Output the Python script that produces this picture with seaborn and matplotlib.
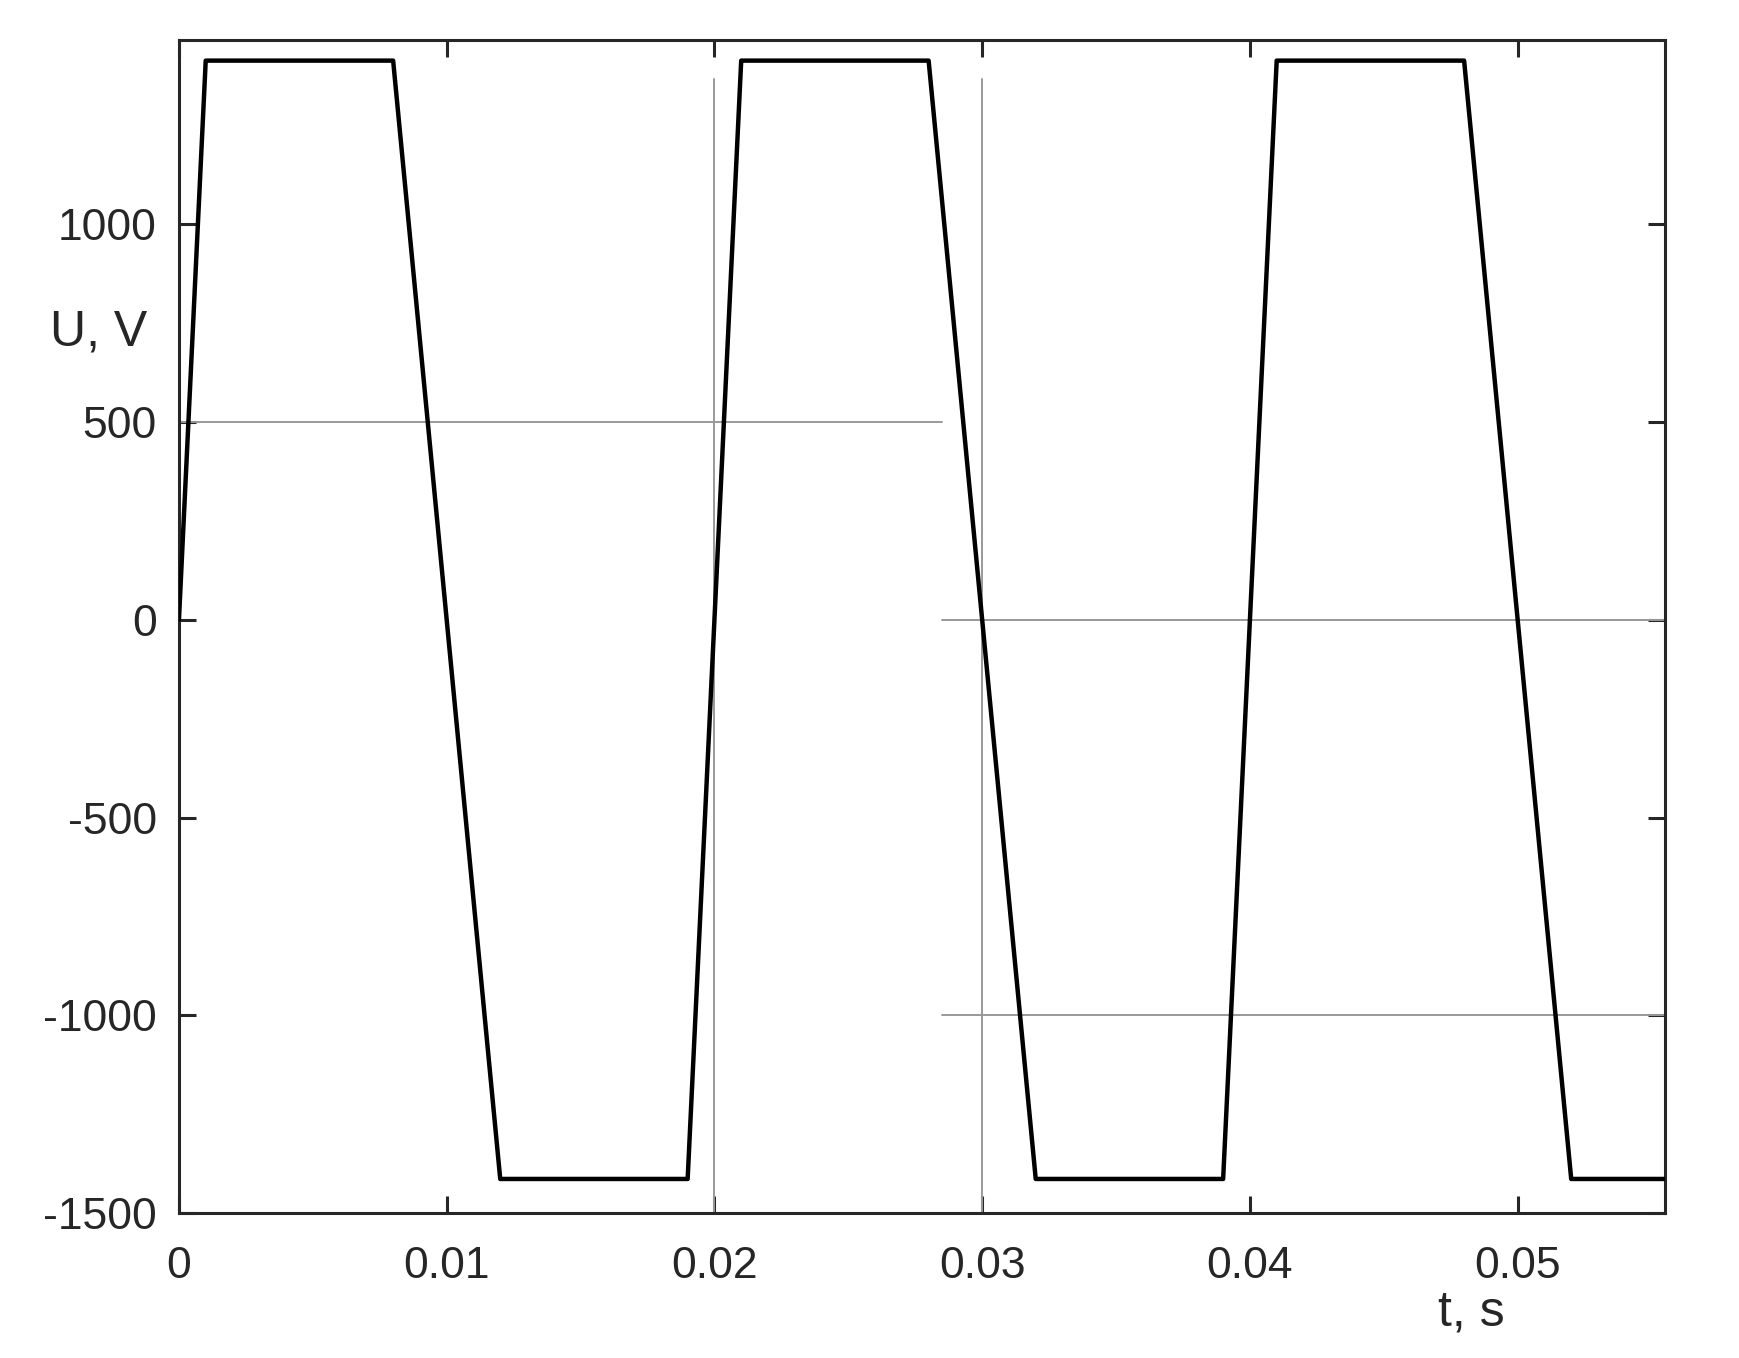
import numpy as np
import pandas as pd
import matplotlib.pyplot as plt
import seaborn as sns

# Waveform corner points (trapezoidal voltage)
t_points = [0, 0.001, 0.008, 0.012, 0.019, 0.021, 0.028, 0.032, 0.039, 0.041, 0.048, 0.052, 0.0555]
u_points = [0, 1414, 1414, -1414, -1414, 1414, 1414, -1414, -1414, 1414, 1414, -1414, -1414]

# Thin grey reference lines
hline_y = [500, 0, -1000]
hline_x0 = [0, 0.0285, 0.0285]
hline_x1 = [0.0285, 0.0555, 0.0555]
vline_x = [0.02, 0.03]
vline_top = 1367

x_ticks = [0, 0.01, 0.02, 0.03, 0.04, 0.05]
x_ticklabels = ['0', '0.01', '0.02', '0.03', '0.04', '0.05']
y_ticks = [-1500, -1000, -500, 0, 500, 1000]

X_MIN, X_MAX = 0, 0.0555
Y_MIN, Y_MAX = -1500, 1466

df = pd.DataFrame({'t': t_points, 'u': u_points})

sns.set_theme(style='white')
plt.rcParams['font.family'] = ['Liberation Sans', 'DejaVu Sans']
plt.rcParams['axes.unicode_minus'] = False

fig = plt.figure(figsize=(17.39, 13.58), dpi=100)
ax = fig.add_axes([0.1029, 0.1068, 0.8545, 0.8637])

# reference lines behind the waveform
for y, x0, x1 in zip(hline_y, hline_x0, hline_x1):
    ax.plot([x0, x1], [y, y], color='0.6', lw=1.4, zorder=1)
for x in vline_x:
    ax.plot([x, x], [Y_MIN, vline_top], color='0.6', lw=1.4, zorder=1)

sns.lineplot(data=df, x='t', y='u', ax=ax, color='black', lw=3.2,
             sort=False, estimator=None, zorder=3)

ax.set_xlim(X_MIN, X_MAX)
ax.set_ylim(Y_MIN, Y_MAX)
ax.set_xticks(x_ticks)
ax.set_xticklabels(x_ticklabels)
ax.set_yticks(y_ticks)
ax.set_xlabel('')
ax.set_ylabel('')

for side in ['left', 'right', 'top', 'bottom']:
    ax.spines[side].set_visible(True)
    ax.spines[side].set_color('#262626')
    ax.spines[side].set_linewidth(2.2)

ax.tick_params(axis='both', direction='in', length=12, width=2.2, color='#262626',
               labelsize=32, labelcolor='#262626', top=True, right=True,
               left=True, bottom=True)
ax.tick_params(axis='x', pad=24)
ax.tick_params(axis='y', pad=16)

fig.text(50 / 1739, 1 - 332 / 1358, 'U, V', fontsize=36, color='#262626',
         ha='left', va='center')
fig.text(1438 / 1739, 1 - 1313 / 1358, 't, s', fontsize=36, color='#262626',
         ha='left', va='center')

fig.savefig('out.png', dpi=100)
